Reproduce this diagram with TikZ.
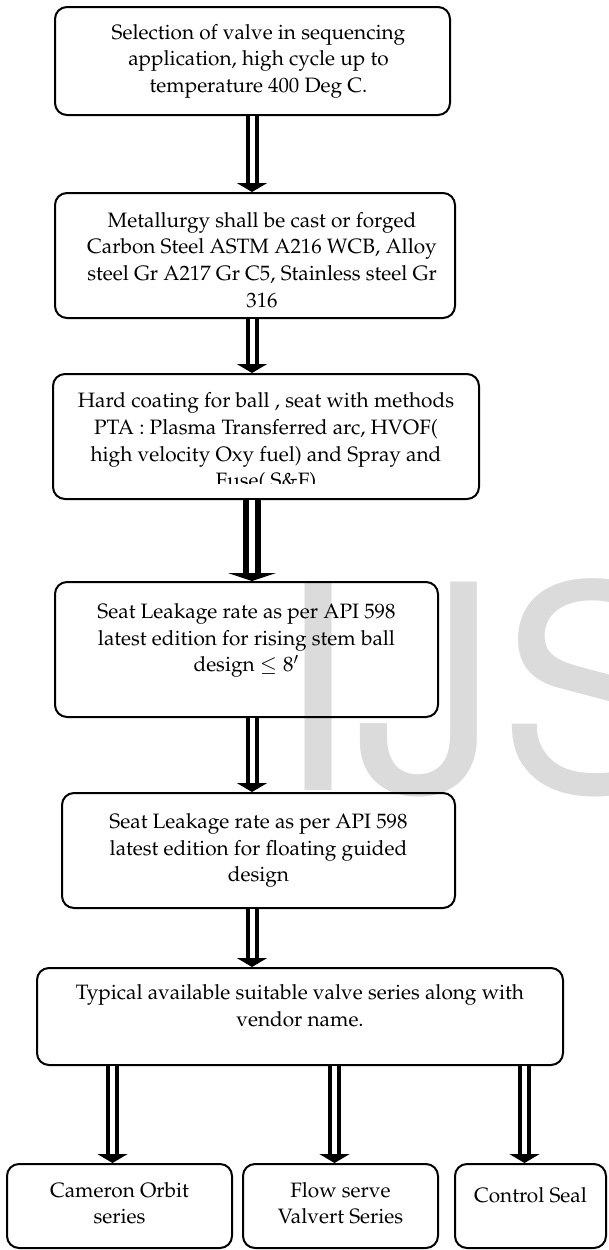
\documentclass[tikz,border=0pt]{standalone}
\usepackage[T1]{fontenc}
\usepackage{mathpazo}
\usepackage{tikz}
\usetikzlibrary{arrows.meta}

\tikzset{
  box/.style={draw, line width=1pt, rounded corners=6pt, align=center,
    inner sep=0pt, font=\fontsize{10.4}{13.3}\selectfont},
  dblarrow/.style={double, double distance=2.5pt, line width=2pt,
    -{Triangle[width=15pt,length=4.5pt]}},
  bigarrow/.style={double distance=2.8pt, line width=3pt,
    -{Triangle[width=24pt,length=4pt]}},
}

\begin{document}
\begin{tikzpicture}[x=0.5pt, y=-0.5pt]
      \useasboundingbox (0,0) rectangle (609,1250);

      % watermark
      \node[anchor=base west, inner sep=0pt, text=black!14,
            font=\fontsize{143}{143}\usefont{T1}{phv}{m}{n}] (wm) at (276,790) {IJS};

      \node[box, minimum width=197.5pt, minimum height=54pt] (b1) at (252.5,61)
        {\hspace*{6pt}Selection of valve in sequencing\\ \hspace*{6pt}application, high cycle up to\\ \hspace*{6pt}temperature 400 Deg C.};
      \node[box, minimum width=200pt, minimum height=62.5pt] (b2) at (255,255.5)
        {\rule{0pt}{12pt}\hspace*{7pt}Metallurgy shall be cast or forged\\ \hspace*{7pt}Carbon Steel ASTM A216 WCB, Alloy\\ \hspace*{7pt}steel Gr A217 Gr C5, Stainless steel Gr\\ \hspace*{7pt}316};
      \node[box, minimum width=213pt, minimum height=62.5pt] (b3) at (266,436.5)
        {\rule{0pt}{13.5pt}Hard coating for ball , seat with methods\\ PTA : Plasma Transferred arc, HVOF(\\ high velocity Oxy fuel) and Spray and\\ Fuse( S\&F)};
      \fill[white] (80,484) rectangle (456,497);
      \node[box, minimum width=191.5pt, minimum height=67.5pt] (b4) at (246.5,649.5)
        {Seat Leakage rate as per API 598\\ latest edition for rising stem ball\\ design $\le 8'$\rule[-12pt]{0pt}{12pt}};
      \node[box, minimum width=196.5pt, minimum height=57.5pt] (b5) at (258.5,850.5)
        {Seat Leakage rate as per API 598\\ latest edition for floating guided\\ design};
      \node[box, minimum width=263pt, minimum height=48.5pt] (b6) at (300,1016.5)
        {Typical available suitable valve series along with\\ vendor name.\rule[-11pt]{0pt}{11pt}};

      \node[box, minimum width=112.5pt, minimum height=42pt] (b7) at (119.5,1206)
        {Cameron Orbit\\ series\rule[-3pt]{0pt}{3pt}};
      \node[box, minimum width=97.5pt, minimum height=42pt] (b8) at (340.5,1206)
        {Flow serve\\ Valvert Series\rule[-3pt]{0pt}{3pt}};
      \node[box, minimum width=75.5pt, minimum height=42pt] (b9) at (530.5,1206)
        {Control Seal\rule[-11pt]{0pt}{11pt}};

      \coordinate (spine) at (252,0);
      \coordinate (t7) at ([xshift=-3.5pt]b7.north);
      \coordinate (t8) at ([xshift=-3pt]b8.north);
      \coordinate (t9) at ([xshift=-3pt]b9.north);

      \draw [dblarrow]           (b1.south -| spine) -- (b2.north -| spine);
      \draw [dblarrow]           (b2.south -| spine) -- (b3.north -| spine);
      \draw [dblarrow, bigarrow] (b3.south -| spine) -- (b4.north -| spine);
      \draw [dblarrow]           (b4.south -| spine) -- (b5.north -| spine);
      \draw [dblarrow]           (b5.south -| spine) -- (b6.north -| spine);

      \draw [dblarrow] (t7 |- b6.south) -- (t7);
      \draw [dblarrow] (t8 |- b6.south) -- (t8);
      \draw [dblarrow] (t9 |- b6.south) -- (t9);
\end{tikzpicture}
\end{document}
